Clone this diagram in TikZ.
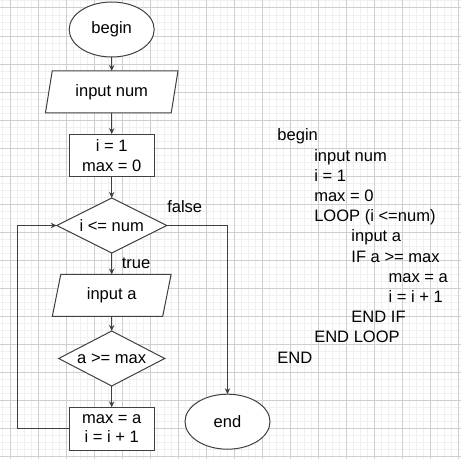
\documentclass[tikz,border=0pt]{standalone}
\usepackage{fontspec}
\setmainfont{Liberation Sans}
\usetikzlibrary{shapes.geometric,arrows.meta}
\begin{document}
\begin{tikzpicture}[x=0.75pt,y=-0.75pt,
  every node/.style={font=\fontsize{12.4pt}{14.5pt}\selectfont, text=black},
  shp/.style={draw=black!75, line width=0.75pt, fill=white, inner sep=0pt, outer sep=0pt},
  term/.style={shp, ellipse, minimum width=63.75pt, minimum height=41.25pt},
  io/.style={shp, trapezium, trapezium left angle=75, trapezium right angle=105, trapezium stretches=true, minimum height=31.5pt},
  proc/.style={shp, rectangle, align=center, minimum width=63.75pt, minimum height=32pt},
  dec/.style={shp, diamond, aspect=2, minimum height=41.25pt},
  conn/.style={draw=black!75, line width=0.75pt, -{Stealth[length=4.5pt,width=4pt]}},
  lbl/.style={inner sep=0pt, anchor=base west},
  code/.style={inner sep=0pt, anchor=base west},
  minorgrid/.style={draw=black!6, line width=0.75pt},
  majorgrid/.style={draw=black!19, line width=0.75pt}
]
\useasboundingbox (0,0) rectangle (461,459);
\fill[white] (0,0) rectangle (461,459);
% grid
\foreach \k in {0,...,65} {
  \draw[minorgrid] ({2.99+7.0125*\k},0) -- ({2.99+7.0125*\k},459);
  \draw[minorgrid] (0,{0.99+7.0125*\k}) -- (461,{0.99+7.0125*\k});
}
\foreach \k in {0,...,16} {
  \draw[majorgrid] ({10+28.05*\k},0) -- ({10+28.05*\k},459);
  \draw[majorgrid] (0,{8+28.05*\k}) -- (461,{8+28.05*\k});
}
% flowchart
\node[term] (begin) at (111.7,29.5) {begin};
\node[io, minimum width=100pt] (p1) at (111.7,92) {input num};
\node[proc] (r1) at (111.7,155.5) {i = 1\\max = 0};
\node[dec, minimum width=82.5pt] (d1) at (111.7,225.5) {i <= num};
\node[io, minimum width=89.25pt] (p2) at (111.7,295.5) {input a};
\node[dec, minimum width=79.5pt] (d2) at (111.7,358.5) {a >= max};
\node[proc] (r2) at (111.7,428.7) {max = a\\i = i + 1};
\node[term] (end) at (227.5,421.7) {end};
\coordinate (lx) at (17.3,0);
\draw[conn] (begin.south) -- (p1.north);
\draw[conn] (p1.south) -- (r1.north);
\draw[conn] (r1.south) -- (d1.north);
\draw[conn] (d1.south) -- (p2.north);
\draw[conn] (p2.south) -- (d2.north);
\draw[conn] (d2.south) -- (r2.north);
\draw[conn] (r2.west) -- (lx |- r2.west) |- (d1.west);
\draw[conn] (d1.east) -| (end.north);
\node[lbl] (ltrue) at (121.5,268.3) {true};
\node[lbl] (lfalse) at (167,212.7) {false};
% pseudocode
\node[code] (c0) at (277.2,141) {begin};
\node[code] (c1) at (314,161.2) {input num};
\node[code] (c2) at (314,181.4) {i = 1};
\node[code] (c3) at (314,201.6) {max = 0};
\node[code] (c4) at (314,221.8) {LOOP (i <=num)};
\node[code] (c5) at (351.2,242) {input a};
\node[code] (c6) at (351.2,262.2) {IF a >= max};
\node[code] (c7) at (388.3,282.4) {max = a};
\node[code] (c8) at (388.3,302.6) {i = i + 1};
\node[code] (c9) at (351.2,322.8) {END IF};
\node[code] (c10) at (314,343) {END LOOP};
\node[code] (c11) at (277.2,363.2) {END};
\end{tikzpicture}
\end{document}
